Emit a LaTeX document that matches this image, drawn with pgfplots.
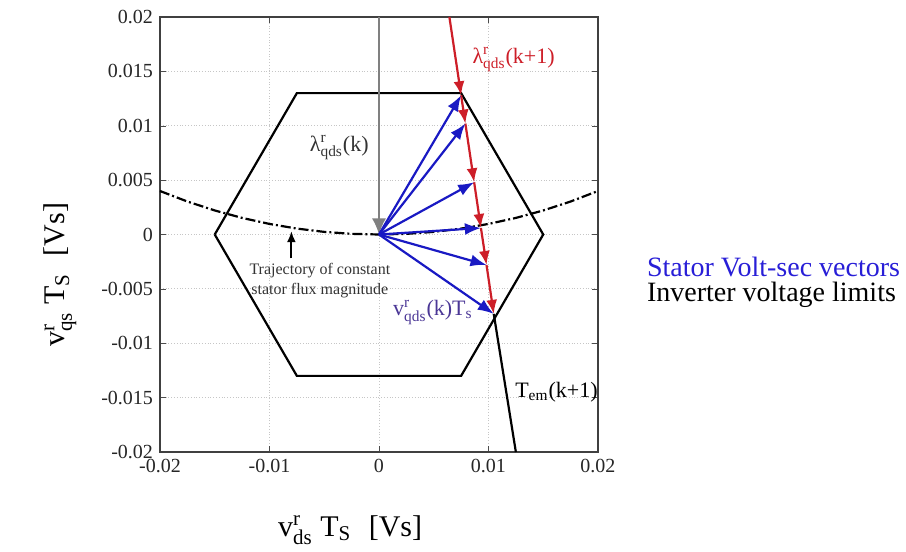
\documentclass[border=0pt]{standalone}
\usepackage{pgfplots}
\pgfplotsset{compat=1.18}
\usepackage{amsmath}
\usepackage{fontspec}
\setmainfont{Liberation Serif}
\usetikzlibrary{arrows.meta}
\definecolor{vblue}{RGB}{25,25,195}
\definecolor{vlab}{RGB}{75,55,150}
\definecolor{lred}{RGB}{205,30,40}
\definecolor{legblue}{RGB}{40,30,215}
\newcommand\supsub[3]{$\text{#1}^{\text{#2}}_{\text{#3}}$}
\begin{document}
\begin{tikzpicture}
\useasboundingbox (-80pt,-50pt) rectangle (373pt,226pt);
\begin{axis}[
  scale only axis, width=219pt, height=217.5pt,
  at={(0,0)}, anchor=south west,
  xmin=-0.02, xmax=0.02, ymin=-0.02, ymax=0.02,
  xtick={-0.02,-0.01,0,0.01,0.02},
  ytick={-0.02,-0.015,-0.01,-0.005,0,0.005,0.01,0.015,0.02},
  scaled ticks=false,
  grid=major, grid style={densely dotted, gray!45},
  axis line style={gray!50!black, line width=0.7pt},
  tick style={gray!60!black}, major tick length=3pt,
  /pgf/number format/assume math mode=true,
  /pgf/number format/fixed, /pgf/number format/precision=3,
  ticklabel style={font=\fontsize{10}{12}\selectfont, text=black!85},
  xlabel={\supsub{v}{r}{ds} T\textsubscript{S}\,\, [Vs]},
  xlabel style={font=\fontsize{15}{18}\selectfont, at={(axis description cs:0.434,-0.18)}, anchor=center},
  ylabel={\supsub{v}{r}{qs} T\textsubscript{S}\,\, [Vs]},
  ylabel style={font=\fontsize{15}{18}\selectfont, at={(axis description cs:-0.228,0.407)}, anchor=center, rotate=0},
  clip=false,
]
% inverter voltage limits (hexagon)
\addplot[black, line width=1.1pt] coordinates {
 (-0.015,0) (-0.0075,0.013) (0.0075,0.013) (0.015,0) (0.0075,-0.013) (-0.0075,-0.013) (-0.015,0)};
% constant stator flux trajectory
\addplot[black, line width=1.1pt, dash pattern=on 5pt off 1.5pt on 1pt off 1.5pt] coordinates {
 (-0.02,0.004) (-0.0175,0.003033) (-0.015,0.00221) (-0.0125,0.001525) (-0.01,0.000971)
 (-0.0075,0.000544) (-0.005,0.000241) (-0.0025,0.00006) (0,0)
 (0.0025,0.00006) (0.005,0.000241) (0.0075,0.000544) (0.01,0.000971)
 (0.0125,0.001525) (0.015,0.00221) (0.0175,0.003033) (0.02,0.004)};
% lambda(k) gray arrow
\addplot[gray, line width=0.9pt, -{Latex[length=8pt,width=7pt]}] coordinates {(0,0.02) (0,0)};
% Tem(k+1) line
\addplot[black, line width=1.1pt] coordinates {(0.01048,-0.0073) (0.0125,-0.02)};
% red lambda(k+1) line with arrowheads
\addplot[lred, line width=1.1pt, -{Latex[length=7pt,width=5.5pt]}] coordinates {(0.00643,0.02) (0.0075,0.0128)};
\addplot[lred, line width=1.1pt, -{Latex[length=7pt,width=5.5pt]}] coordinates {(0.0075,0.0128) (0.00789,0.0102)};
\addplot[lred, line width=1.1pt, -{Latex[length=7pt,width=5.5pt]}] coordinates {(0.00789,0.0102) (0.00869,0.0048)};
\addplot[lred, line width=1.1pt, -{Latex[length=7pt,width=5.5pt]}] coordinates {(0.00869,0.0048) (0.00931,0.0006)};
\addplot[lred, line width=1.1pt, -{Latex[length=7pt,width=5.5pt]}] coordinates {(0.00931,0.0006) (0.00982,-0.0028)};
\addplot[lred, line width=1.1pt, -{Latex[length=7pt,width=5.5pt]}] coordinates {(0.00982,-0.0028) (0.01048,-0.0073)};
% blue stator volt-sec vectors
\addplot[vblue, line width=1.1pt, -{Latex[length=8pt,width=6pt]}] coordinates {(0,0) (0.0075,0.0128)};
\addplot[vblue, line width=1.1pt, -{Latex[length=8pt,width=6pt]}] coordinates {(0,0) (0.00789,0.0102)};
\addplot[vblue, line width=1.1pt, -{Latex[length=8pt,width=6pt]}] coordinates {(0,0) (0.00869,0.0048)};
\addplot[vblue, line width=1.1pt, -{Latex[length=8pt,width=6pt]}] coordinates {(0,0) (0.00931,0.0006)};
\addplot[vblue, line width=1.1pt, -{Latex[length=8pt,width=6pt]}] coordinates {(0,0) (0.00982,-0.0028)};
\addplot[vblue, line width=1.1pt, -{Latex[length=8pt,width=6pt]}] coordinates {(0,0) (0.01048,-0.0073)};
% trajectory arrow
\addplot[black, line width=0.9pt, -{Latex[length=5.5pt,width=4.5pt]}] coordinates {(-0.008,-0.0022) (-0.008,0.0003)};
% labels
\node[anchor=east, font=\fontsize{11}{13}\selectfont, text=black!80] at (axis cs:-0.0003,0.008) {\supsub{λ}{r}{qds}(k)};
\node[anchor=west, font=\fontsize{11}{13}\selectfont, text=lred] at (axis cs:0.0079,0.0161) {\supsub{λ}{r}{qds}(k+1)};
\node[anchor=east, font=\fontsize{11}{13}\selectfont, text=vlab] at (axis cs:0.0092,-0.0072) {\supsub{v}{r}{qds}(k)T\textsubscript{s}};
\node[anchor=west, font=\fontsize{11}{13}\selectfont, text=black] at (axis cs:0.0118,-0.0145) {T\textsubscript{em}(k+1)};
\node[align=center, font=\fontsize{8}{10}\selectfont, text=black!80] at (axis cs:-0.0054,-0.0042) {Trajectory of constant\\stator flux magnitude};
\end{axis}
\node[anchor=west, text=legblue, font=\fontsize{14}{17}\selectfont] at (240pt,92.5pt) {Stator Volt-sec vectors};
\node[anchor=west, text=black, font=\fontsize{14}{17}\selectfont] at (240pt,78.5pt) {Inverter voltage limits};
\end{tikzpicture}
\end{document}
